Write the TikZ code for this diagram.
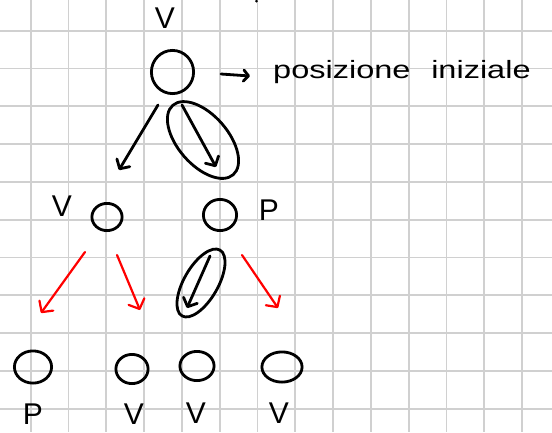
\documentclass[tikz,border=0pt]{standalone}
\usepackage{fontspec}
\setmainfont{Liberation Sans}
\usepackage{graphicx}
\usetikzlibrary{arrows.meta,shapes.geometric}
\definecolor{gridc}{RGB}{208,208,208}
\definecolor{redpen}{RGB}{255,0,0}
\begin{document}
\begin{tikzpicture}[x=1pt,y=-1pt,
  ring/.style={draw=black, line width=2.8pt, ellipse, inner sep=0pt},
  lab/.style={font=\fontsize{30}{30}\selectfont, inner sep=0pt},
  blk/.style={draw=black, line width=2.8pt, line cap=round, line join=round,
    -{Straight Barb[length=7pt,width=15pt,round]}},
  redarr/.style={draw=redpen, line width=2.2pt, line cap=round, line join=round,
    -{Straight Barb[length=8pt,width=17pt,round]}},
  sel/.style={draw=black, line width=2.8pt},
  gridline/.style={draw=gridc, line width=1.7pt}]
\useasboundingbox (0,0) rectangle (552,432);
\fill[white] (0,0) rectangle (552,432);
% grid
\foreach \i in {0,...,13} \draw[gridline] ({30.7+37.8*\i},0) -- ({30.7+37.8*\i},432);
\foreach \j in {0,...,10} \draw[gridline] (0,{30.7+37.8*\j}) -- (552,{30.7+37.8*\j});
% dot
\fill (256.5,1) circle [radius=1.5pt];
% nodes
\node[ring, minimum width=42.2pt, minimum height=43.2pt] (top) at (172.5,72) {};
\node[ring, minimum width=30.2pt, minimum height=27.2pt] (midL) at (107,217) {};
\node[ring, minimum width=33.2pt, minimum height=31.2pt] (midR) at (220,215) {};
\node[ring, minimum width=37.2pt, minimum height=32.2pt] (b1) at (33,367) {};
\node[ring, minimum width=32.2pt, minimum height=29.2pt] (b2) at (132,369) {};
\node[ring, minimum width=34.2pt, minimum height=29.2pt] (b3) at (197,366) {};
\node[ring, minimum width=40.2pt, minimum height=30.2pt] (b4) at (282,367) {};
% labels
\node[lab] (vtop) at (165,18) {V};
\node[lab] (vL) at (62,206) {V};
\node[lab] (pR) at (269,210) {P};
\node[lab] (pB1) at (33,414) {P};
\node[lab] (vB2) at (134,414) {V};
\node[lab] (vB3) at (196,413) {V};
\node[lab] (vB4) at (279,413) {V};
\node[anchor=base west, inner sep=0pt, font=\fontsize{25}{25}\selectfont] (lbl) at (273,78)
  {\scalebox{1.3}[1]{posizione\hspace{16pt}iniziale}};
% annotation arrow
\draw[blk, -{Straight Barb[length=5pt,width=11pt,round]}]
  ([shift={(48.5,2)}]top.center) -- ([shift={(-23,-2)}]lbl.base west);
% tree connectors
\draw[blk] ([shift={(-14.5,33)}]top.center) -- ([shift={(12,-47)}]midL.center);
\draw[blk] ([shift={(9.5,33)}]top.center) -- ([shift={(-4,-48)}]midR.center);
\draw[redarr] ([shift={(-22,35)}]midL.center) -- ([shift={(8,-54)}]b1.center);
\draw[redarr] ([shift={(10,38)}]midL.center) -- ([shift={(8,-59)}]b2.center);
\draw[blk] ([shift={(-10,41)}]midR.center) -- ([shift={(-10,-58)}]b3.center);
\draw[redarr] ([shift={(22,40)}]midR.center) -- ([shift={(-4,-59)}]b4.center);
% selection loops
\draw[sel, rotate around={-49:(203,140)}] (203,140) ellipse [x radius=46pt, y radius=25pt];
\draw[sel, rotate around={60:(201,283)}] (201,283) ellipse [x radius=38pt, y radius=17pt];
\end{tikzpicture}
\end{document}
